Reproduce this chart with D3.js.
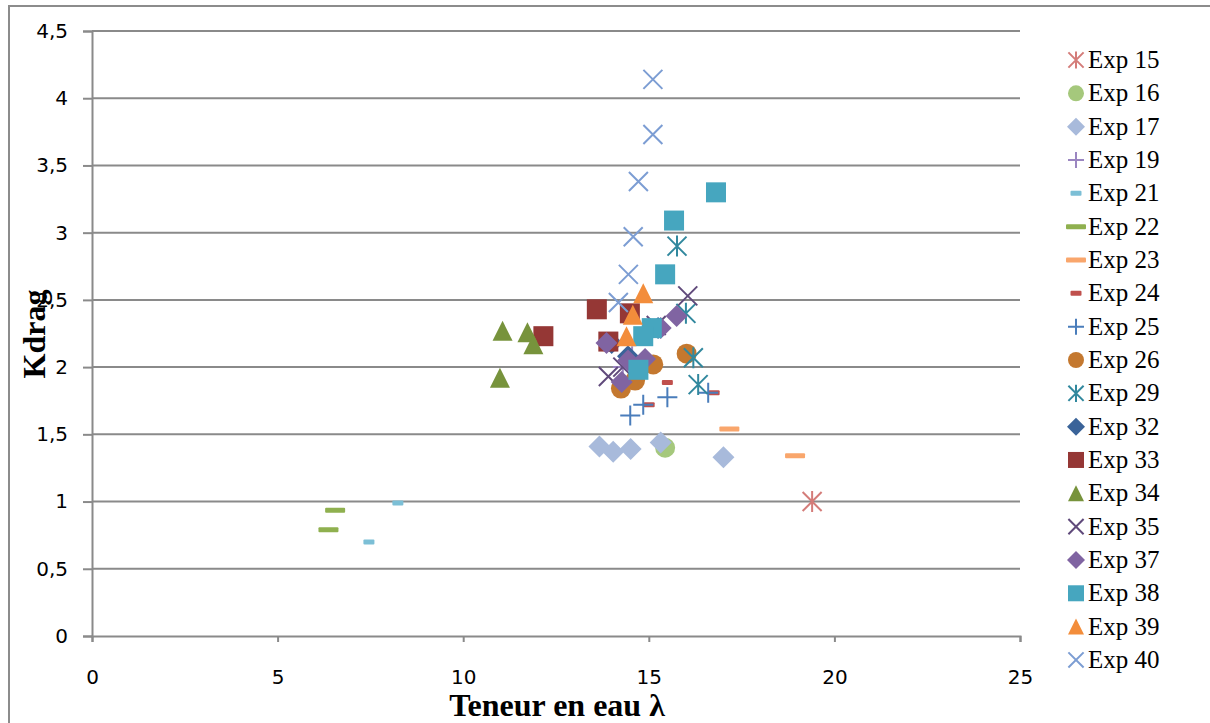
<!DOCTYPE html>
<html><head><meta charset="utf-8">
<script src="https://cdn.jsdelivr.net/npm/d3@7"></script>
<style>body{margin:0;background:#fff}</style>
</head><body>
<svg id="chart" width="1210" height="723"></svg>
<script>
const seriesNames = ["Exp 15","Exp 16","Exp 17","Exp 19","Exp 21","Exp 22","Exp 23","Exp 24","Exp 25","Exp 26","Exp 29","Exp 32","Exp 33","Exp 34","Exp 35","Exp 37","Exp 38","Exp 39","Exp 40"];
const seriesShapes = ["asterisk","circle","diamond","plus","dashS","dashL","dashL","dashS","plus","circle","asterisk","diamond","square","triangle","x","diamond","square","triangle","x"];
const seriesColors = ["#d47c79","#a5c87c","#a8badb","#9b86c1","#7cbfd6","#8fb04f","#f9a66c","#c0504d","#4a7dbb","#c4782f","#31889e","#3a6399","#953735","#77933c","#604a7b","#8064a2","#46a6bf","#f38d3b","#7c9dd3"];
const exp15 = [[19.40,1.00]];
const exp16 = [[15.44,1.40]];
const exp17 = [[13.67,1.41],[14.04,1.37],[14.51,1.39],[15.32,1.44],[17.01,1.33]];
const exp19 = [[14.3,2.00],[14.55,2.08]];
const exp21 = [[8.24,0.99],[7.46,0.70]];
const exp22 = [[6.55,0.935],[6.37,0.79]];
const exp23 = [[17.17,1.54],[18.94,1.34]];
const exp24 = [[15.50,1.885],[15.01,1.72],[16.76,1.81]];
const exp25 = [[15.50,1.776],[14.85,1.72],[14.50,1.64],[16.60,1.81]];
const exp26 = [[16.02,2.10],[15.12,2.02],[14.63,1.90],[14.25,1.84]];
const exp29 = [[15.76,2.90],[16.00,2.40],[16.20,2.07],[16.33,1.87]];
const exp32 = [[14.44,2.08],[15.25,2.29],[14.0,2.18]];
const exp33 = [[13.60,2.43],[14.49,2.40],[13.91,2.19],[12.16,2.23]];
const exp34 = [[11.06,2.27],[11.73,2.26],[11.89,2.17],[10.99,1.92]];
const exp35 = [[16.05,2.53],[13.91,1.93],[15.2,2.31],[14.3,2.0]];
const exp37 = [[15.75,2.38],[15.32,2.29],[13.86,2.18],[14.27,1.89],[14.44,2.05],[14.9,2.06]];
const exp38 = [[16.81,3.30],[15.68,3.09],[15.44,2.69],[15.08,2.29],[14.85,2.23],[14.72,1.98]];
const exp39 = [[14.85,2.55],[14.57,2.39],[14.40,2.23]];
const exp40 = [[15.11,4.14],[15.11,3.73],[14.72,3.38],[14.58,2.97],[14.45,2.69],[14.18,2.48]];
const seriesData = [exp15,exp16,exp17,exp19,exp21,exp22,exp23,exp24,exp25,exp26,exp29,exp32,exp33,exp34,exp35,exp37,exp38,exp39,exp40];
const xTicks = [0,5,10,15,20,25];
const yTicks = [0,0.5,1,1.5,2,2.5,3,3.5,4,4.5];

const svg = d3.select("#chart");
// outer chart border
svg.append("rect").attr("x",9).attr("y",6).attr("width",1230).attr("height",760)
  .attr("fill","none").attr("stroke","#8c8c8c").attr("stroke-width",2);

const x = d3.scaleLinear().domain([0,25]).range([92,1020]);
const y = d3.scaleLinear().domain([0,4.5]).range([636,31]);
const fmt = d => String(d).replace(".",",");
const tickFont = "'DejaVu Sans', sans-serif";

// gridlines
svg.append("g").selectAll("line").data(yTicks.filter(d=>d>0)).join("line")
  .attr("x1",x(0)).attr("x2",x(25)).attr("y1",d=>y(d)).attr("y2",d=>y(d))
  .attr("stroke","#8a8a8a").attr("stroke-width",2);

// y axis
const yAxis = svg.append("g").attr("transform",`translate(${x(0)},0)`)
  .call(d3.axisLeft(y).tickValues(yTicks).tickFormat(fmt).tickSize(9).tickPadding(15));
yAxis.select(".domain").attr("stroke","#8a8a8a").attr("stroke-width",2);
yAxis.selectAll(".tick line").attr("stroke","#8a8a8a").attr("stroke-width",2);
yAxis.selectAll("text").attr("font-family",tickFont).attr("font-size",20).attr("fill","#000");

// x axis
const xAxis = svg.append("g").attr("transform",`translate(0,${y(0)})`)
  .call(d3.axisBottom(x).tickValues(xTicks).tickFormat(fmt).tickSize(6).tickPadding(28));
xAxis.select(".domain").attr("stroke","#8a8a8a").attr("stroke-width",2);
xAxis.selectAll(".tick line").attr("stroke","#8a8a8a").attr("stroke-width",2);
xAxis.selectAll("text").attr("font-family",tickFont).attr("font-size",20).attr("fill","#000");

// axis titles
svg.append("text").attr("x",557).attr("y",716).attr("text-anchor","middle")
  .attr("font-family","'Liberation Serif', serif").attr("font-weight","bold").attr("font-size",32)
  .text("Teneur en eau λ");
svg.append("text").attr("transform","translate(45,334) rotate(-90)").attr("text-anchor","middle")
  .attr("font-family","'Liberation Serif', serif").attr("font-weight","bold").attr("font-size",32)
  .text("Kdrag");

function drawMarker(g, shape, color, cx, cy, s) {
  const h = s/2;
  if (shape==="circle") {
    g.append("circle").attr("cx",cx).attr("cy",cy).attr("r",h).attr("fill",color);
  } else if (shape==="square") {
    g.append("rect").attr("x",cx-h).attr("y",cy-h).attr("width",s).attr("height",s).attr("fill",color);
  } else if (shape==="diamond") {
    g.append("path").attr("d",`M${cx},${cy-h-1}L${cx+h+1},${cy}L${cx},${cy+h+1}L${cx-h-1},${cy}Z`).attr("fill",color);
  } else if (shape==="triangle") {
    g.append("path").attr("d",`M${cx},${cy-h}L${cx+h},${cy+h}L${cx-h},${cy+h}Z`).attr("fill",color);
  } else if (shape==="x" || shape==="asterisk" || shape==="plus") {
    const q = h*0.95;
    let d = "";
    if (shape!=="plus") d += `M${cx-q},${cy-q}L${cx+q},${cy+q}M${cx-q},${cy+q}L${cx+q},${cy-q}`;
    if (shape==="asterisk") d += `M${cx},${cy-q-1}L${cx},${cy+q+1}`;
    if (shape==="plus") d += `M${cx-h},${cy}L${cx+h},${cy}M${cx},${cy-h}L${cx},${cy+h}`;
    g.append("path").attr("d",d).attr("fill","none").attr("stroke",color).attr("stroke-width",2);
  } else if (shape==="dashL") {
    g.append("rect").attr("x",cx-10).attr("y",cy-2.5).attr("width",20).attr("height",5).attr("rx",1).attr("fill",color);
  } else if (shape==="dashS") {
    g.append("rect").attr("x",cx-5.5).attr("y",cy-2.5).attr("width",11).attr("height",5).attr("rx",1).attr("fill",color);
  }
}

// points
const pts = svg.append("g");
seriesData.forEach((data,i)=>{
  const g = pts.append("g").attr("class","series");
  data.forEach(([vx,vy])=>drawMarker(g, seriesShapes[i], seriesColors[i], x(vx), y(vy), 20));
});

// legend
const leg = svg.append("g");
seriesNames.forEach((name,i)=>{
  const ly = 60 + i*33.33;
  const g = leg.append("g");
  drawMarker(g, seriesShapes[i], seriesColors[i], 1076, ly, 16);
  g.append("text").attr("x",1088).attr("y",ly+8).attr("font-family","'Liberation Serif', serif")
    .attr("font-size",25).attr("fill","#000").text(name);
});
</script>
</body></html>
